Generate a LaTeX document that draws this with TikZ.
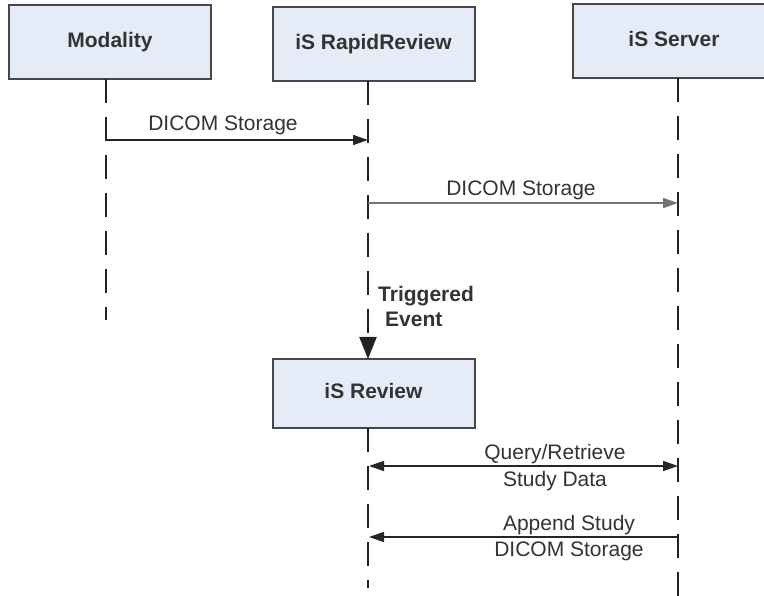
\documentclass[tikz,border=0pt]{standalone}
\usepackage{fontspec}
\setmainfont{Liberation Sans}
\usetikzlibrary{arrows.meta}
\definecolor{boxfill}{HTML}{E6ECF7}
\definecolor{boxline}{HTML}{474747}
\definecolor{ink}{HTML}{333333}
\definecolor{lifeink}{HTML}{222222}
\begin{document}
\begin{tikzpicture}[x=1pt,y=-1pt,
  actor/.style={draw=boxline, line width=2pt, fill=boxfill, minimum width=202pt,
    minimum height=74pt, inner sep=0pt, text=ink, text height=15pt, text depth=4pt,
    font=\fontsize{21}{25}\selectfont\bfseries},
  life/.style={line width=2pt, draw=lifeink, dash pattern=on 24pt off 14pt},
  msg/.style={line width=1.5pt, draw=black!85, -{Triangle[length=15pt,width=10pt]}},
  lbl/.style={inner sep=0pt, text=ink, anchor=base, font=\fontsize{21}{25}\selectfont},
  blbl/.style={inner sep=0pt, text=ink, anchor=base west, font=\fontsize{21}{25}\selectfont\bfseries},
]
\clip (0,0) rectangle (764,596);
\fill[white] (0,0) rectangle (764,596);

% actors
\node[actor] (mod) at (110,42) {Modality};
\node[actor] (rr)  at (373.5,44) {iS RapidReview};
\node[actor] (srv) at (674,41.5) {iS Server};
\node[actor, minimum height=69pt] (rev) at (373.5,393.5) {iS Review};

% lifeline points
\coordinate (modTop) at (106,79);
\coordinate (modEnd) at (106,320);
\coordinate (rrTop)  at (368,81);
\coordinate (revTop) at (368,359);
\coordinate (revBot) at (368,428);
\coordinate (revEnd) at (368,588);
\coordinate (srvTop) at (678,78);
\coordinate (srvEnd) at (678,596);

% lifelines
\draw[life] (modTop) -- (modEnd);
\draw[life, -{Triangle[length=22pt,width=17pt]}] (rrTop) -- (revTop);
\draw[life] (revBot) -- (revEnd);
\draw[life] (srvTop) -- (srvEnd);

% message points
\coordinate (m1s) at (106,140);
\coordinate (m1e) at (368,140);
\coordinate (m2s) at (368,203);
\coordinate (m2e) at (678,203);
\coordinate (m3s) at (369,466);
\coordinate (m3e) at (678,466);
\coordinate (m4s) at (678,537);
\coordinate (m4e) at (369,537);

% messages
\draw[msg] (m1s) -- (m1e);
\draw[msg, draw=black!55] (m2s) -- (m2e);
\draw[msg, {Triangle[length=15pt,width=10pt]}-{Triangle[length=15pt,width=10pt]}] (m3s) -- (m3e);
\draw[msg] (m4s) -- (m4e);

% labels
\node[lbl] (l1) at (223,131) {DICOM Storage};
\node[lbl] (l2) at (521,196) {DICOM Storage};
\node[blbl] (t1) at (378,302) {Triggered};
\node[blbl] (t2) at (385,327) {Event};
\node[lbl] (l3a) at (555,460) {Query/Retrieve};
\node[lbl] (l3b) at (555,486) {Study Data};
\node[lbl] (l4a) at (569,530) {Append Study};
\node[lbl] (l4b) at (569,556) {DICOM Storage};
\end{tikzpicture}
\end{document}
